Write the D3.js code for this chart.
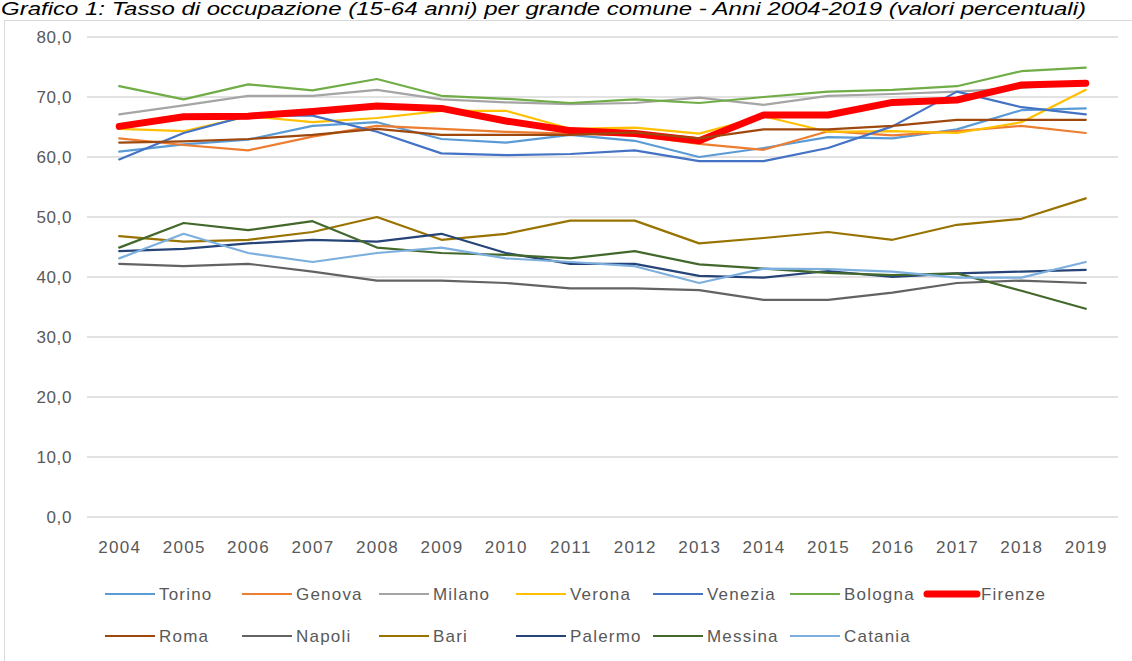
<!DOCTYPE html>
<html><head><meta charset="utf-8">
<script src="https://cdn.jsdelivr.net/npm/d3@7"></script>
<style>
html,body{margin:0;padding:0;background:#fff;overflow:hidden}
svg{display:block}
</style></head>
<body>
<svg id="chart" width="1132" height="661"></svg>
<script>
const titleText = "Grafico 1: Tasso di occupazione (15-64 anni) per grande comune - Anni 2004-2019 (valori percentuali)";
const years = ["2004","2005","2006","2007","2008","2009","2010","2011","2012","2013","2014","2015","2016","2017","2018","2019"];
const yTicks = [0,10,20,30,40,50,60,70,80];
const seriesNames = ["Torino","Genova","Milano","Verona","Venezia","Bologna","Firenze","Roma","Napoli","Bari","Palermo","Messina","Catania"];
const seriesColors = ["#5B9BD5","#ED7D31","#A5A5A5","#FFC000","#4472C4","#70AD47","#FF0000","#9E480E","#636363","#997300","#264478","#43682B","#7CAFDD"];

const torino  = [60.9,62.1,62.9,65.2,65.8,63.0,62.4,63.7,62.7,60.0,61.5,63.3,63.1,64.6,67.8,68.1];
const genova  = [63.1,62.0,61.1,63.4,65.2,64.7,64.2,63.9,63.6,62.2,61.2,64.3,63.6,64.3,65.2,64.0];
const milano  = [67.1,68.6,70.2,70.2,71.2,69.6,69.1,68.8,69.0,69.9,68.7,70.2,70.5,70.9,71.5,72.3];
const verona  = [64.7,64.3,66.8,65.8,66.5,67.7,67.7,64.7,64.9,63.9,66.8,64.2,64.3,64.0,65.8,71.2];
const venezia = [59.6,64.0,66.9,66.9,64.2,60.6,60.3,60.5,61.1,59.3,59.3,61.5,65.1,70.9,68.3,67.1];
const bologna = [71.8,69.6,72.1,71.1,73.0,70.2,69.7,69.0,69.6,69.0,70.0,70.9,71.2,71.8,74.3,74.9];
const firenze = [65.1,66.7,66.8,67.6,68.5,68.1,66.0,64.4,63.9,62.7,67.0,67.0,69.1,69.5,72.0,72.3];
const roma    = [62.4,62.6,63.0,63.7,64.7,63.7,63.7,63.7,64.1,63.1,64.6,64.6,65.2,66.2,66.2,66.2];
const napoli  = [42.2,41.8,42.2,40.9,39.4,39.4,39.0,38.1,38.1,37.8,36.2,36.2,37.4,39.0,39.4,39.0];
const bari    = [46.8,45.9,46.2,47.5,50.0,46.2,47.2,49.4,49.4,45.6,46.5,47.5,46.2,48.7,49.7,53.1];
const palermo = [44.3,44.7,45.6,46.2,45.9,47.2,44.0,42.2,42.2,40.2,39.9,41.0,40.0,40.6,40.9,41.2];
const messina = [44.9,49.0,47.8,49.3,44.9,44.0,43.7,43.1,44.3,42.1,41.4,40.7,40.3,40.6,37.7,34.7];
const catania = [43.1,47.2,44.0,42.5,44.0,44.9,43.1,42.5,41.8,39.0,41.4,41.3,40.9,39.9,39.9,42.5];

const seriesValues = [torino,genova,milano,verona,venezia,bologna,firenze,roma,napoli,bari,palermo,messina,catania];
const series = seriesNames.map((n,i)=>({name:n,color:seriesColors[i],values:seriesValues[i]}));

const svg = d3.select("#chart");
const font = "'Liberation Sans', Arial, sans-serif";
const textColor = "#595959";

// title
svg.append("text").attr("x",1).attr("y",15)
  .attr("font-family",font).attr("font-style","italic").attr("font-size",18)
  .attr("fill","#000")
  .attr("textLength",1085).attr("lengthAdjust","spacingAndGlyphs")
  .text(titleText);

// frame
svg.append("rect").attr("x",4.5).attr("y",20.5).attr("width",1160).attr("height",700)
  .attr("fill","none").attr("stroke","#D9D9D9").attr("stroke-width",1);

const x = d3.scalePoint().domain(years).range([87,1118]).padding(0.5);
const y = d3.scaleLinear().domain([0,80]).range([517,37]);

// gridlines
svg.append("g").selectAll("line").data(yTicks).join("line")
  .attr("x1",87).attr("x2",1118)
  .attr("y1",d=>y(d)).attr("y2",d=>y(d))
  .attr("stroke","#D9D9D9").attr("stroke-width",1.5);

// y axis labels
const yAxis = d3.axisLeft(y).tickValues(yTicks).tickSize(0).tickPadding(0)
  .tickFormat(d=>d3.format(".1f")(d).replace(".",","));
const gy = svg.append("g").attr("transform","translate(72,0)").call(yAxis);
gy.select(".domain").remove();
gy.selectAll("text").attr("font-family",font).attr("font-size",17).attr("fill",textColor)
  .attr("dy","0.35em").attr("letter-spacing",0.6);

// x axis labels
const xAxis = d3.axisBottom(x).tickSize(0).tickPadding(0);
const gx = svg.append("g").attr("transform","translate(0,547)").call(xAxis);
gx.select(".domain").remove();
gx.selectAll("text").attr("font-family",font).attr("font-size",17).attr("fill",textColor)
  .attr("dy","0.35em").attr("letter-spacing",1.3);

// lines
const line = d3.line().x((d,i)=>x(years[i])).y(d=>y(d));
svg.append("g").selectAll("path").data(series).join("path")
  .attr("d",d=>line(d.values))
  .attr("fill","none")
  .attr("stroke",d=>d.color)
  .attr("stroke-width",d=>d.name==="Firenze"?7:2.2)
  .attr("stroke-linecap","round").attr("stroke-linejoin","round");

// legend
const colX = [105,242,379,516,653,790,927];
const rowY = [594,636];
const leg = svg.append("g").selectAll("g").data(series).join("g")
  .attr("transform",(d,i)=>{const r=i<7?0:1; const c=i<7?i:i-7; return `translate(${colX[c]},${rowY[r]})`;});
leg.append("line").attr("x1",0).attr("x2",50).attr("y1",0).attr("y2",0)
  .attr("stroke",d=>d.color).attr("stroke-width",d=>d.name==="Firenze"?7:2.2)
  .attr("stroke-linecap",d=>d.name==="Firenze"?"round":"butt");
leg.append("text").attr("x",54).attr("y",0).attr("dy","0.35em")
  .attr("font-family",font).attr("font-size",17).attr("fill",textColor)
  .attr("letter-spacing",1.2)
  .text(d=>d.name);
</script>
</body></html>
